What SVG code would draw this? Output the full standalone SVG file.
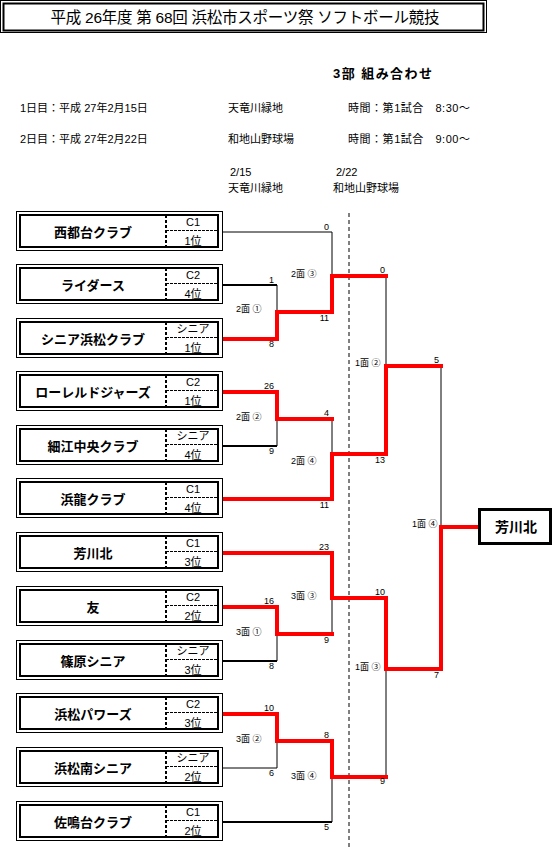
<svg xmlns="http://www.w3.org/2000/svg" width="553" height="866" viewBox="0 0 553 866">
<style>
text{font-family:"Liberation Sans","Noto Sans CJK JP",sans-serif;fill:#000}
.title{font-size:15.5px}
.hd{font-size:11px}
.sub{font-size:13px;font-weight:bold}
.name{font-size:13px;font-weight:bold;text-anchor:middle}
.cat{font-size:11px;text-anchor:middle}
.sc{font-size:9px;text-anchor:end}
.ml{font-size:9px}
.ob{fill:#fff;stroke:#000;stroke-width:1}
.ib{fill:none;stroke:#000;stroke-width:2}
.dv{stroke:#000;stroke-width:2;stroke-dasharray:3 2}
.dh{stroke:#000;stroke-width:1;stroke-dasharray:3 1}
.k1{fill:none;stroke:#000;stroke-width:1}
.k2{fill:none;stroke:#000;stroke-width:2}
.r{fill:none;stroke:#ff0000;stroke-width:4;stroke-linejoin:miter;stroke-linecap:square}
</style>
<rect width="553" height="866" fill="#fff"/>
<g id="header">
<rect x="0.5" y="0.5" width="486" height="32" fill="none" stroke="#000" stroke-width="1"/>
<rect x="3.5" y="3.5" width="480" height="27" fill="none" stroke="#000" stroke-width="2"/>
<text class="title" x="245" y="22.5" text-anchor="middle" textLength="389" lengthAdjust="spacing">平成 26年度  第 68回  浜松市スポーツ祭  ソフトボール競技</text>
<text class="sub" x="333" y="78" textLength="99" lengthAdjust="spacing">3部  組み合わせ</text>
<text class="hd" x="20" y="112">1日目：平成 27年2月15日</text>
<text class="hd" x="228" y="112">天竜川緑地</text>
<text class="hd" x="348" y="112" textLength="122" lengthAdjust="spacing">時間：第1試合　8:30～</text>
<text class="hd" x="20" y="143">2日目：平成 27年2月22日</text>
<text class="hd" x="228" y="143">和地山野球場</text>
<text class="hd" x="348" y="143" textLength="122" lengthAdjust="spacing">時間：第1試合　9:00～</text>
<text class="hd" x="230" y="176">2/15</text>
<text class="hd" x="336" y="176">2/22</text>
<text class="hd" x="228" y="192">天竜川緑地</text>
<text class="hd" x="333" y="192">和地山野球場</text>
</g>
<g id="connectors">
<line x1="349" y1="213" x2="349" y2="848" stroke="#000" stroke-width="1" stroke-dasharray="4 3"/>
<path class="k1" d="M223,232 H332 V276"/>
<path class="k2" d="M223,285 H277"/>
<path class="k1" d="M277,285 V312"/>
<path class="k2" d="M223,446 H277"/>
<path class="k1" d="M277,446 V419"/>
<path class="k1" d="M332,419 V454"/>
<path class="k1" d="M386,276 V366"/>
<path class="k2" d="M223,661 H277"/>
<path class="k1" d="M277,661 V634"/>
<path class="k1" d="M332,598 V634"/>
<path class="k1" d="M223,768 H277 V741"/>
<path class="k2" d="M223,822 H332"/>
<path class="k1" d="M332,822 V777"/>
<path class="k1" d="M386,669 V777"/>
<path class="k1" d="M441,366 V527"/>
<path class="r" d="M224,339 H277 V312 H332 V276 H386"/>
<path class="r" d="M224,392 H277 V419 H332"/>
<path class="r" d="M224,499 H332 V454 H386 V366 H441"/>
<path class="r" d="M224,553 H332 V598 H386 V669 H441 V527 H478"/>
<path class="r" d="M224,607 H277 V634 H332"/>
<path class="r" d="M224,714 H277 V741 H332 V777 H386"/>
<text class="sc" x="274" y="283">1</text>
<text class="sc" x="274" y="347">8</text>
<text class="sc" x="274" y="389">26</text>
<text class="sc" x="274" y="454">9</text>
<text class="sc" x="274" y="604">16</text>
<text class="sc" x="274" y="669">8</text>
<text class="sc" x="274" y="711">10</text>
<text class="sc" x="274" y="776">6</text>
<text class="sc" x="329" y="230">0</text>
<text class="sc" x="329" y="321">11</text>
<text class="sc" x="329" y="416">4</text>
<text class="sc" x="329" y="508">11</text>
<text class="sc" x="329" y="550">23</text>
<text class="sc" x="329" y="643">9</text>
<text class="sc" x="329" y="738">8</text>
<text class="sc" x="329" y="830">5</text>
<text class="sc" x="385" y="273">0</text>
<text class="sc" x="385" y="463">13</text>
<text class="sc" x="385" y="595">10</text>
<text class="sc" x="385" y="784">9</text>
<text class="sc" x="439" y="363">5</text>
<text class="sc" x="439" y="678">7</text>
<text class="ml" x="236" y="312">2面 ①</text>
<text class="ml" x="236" y="420">2面 ②</text>
<text class="ml" x="236" y="635">3面 ①</text>
<text class="ml" x="236" y="742">3面 ②</text>
<text class="ml" x="291" y="277">2面 ③</text>
<text class="ml" x="291" y="464">2面 ④</text>
<text class="ml" x="291" y="599">3面 ③</text>
<text class="ml" x="291" y="779">3面 ④</text>
<text class="ml" x="355" y="366">1面 ②</text>
<text class="ml" x="355" y="670">1面 ③</text>
<text class="ml" x="412" y="527">1面 ④</text>
</g>
<g id="team1" transform="translate(0,232)"><rect class="ob" x="16.5" y="-20.5" width="206" height="39"/><rect class="ib" x="20" y="-17" width="198" height="32"/><line class="dv" x1="166" y1="-17" x2="166" y2="15"/><line class="dh" x1="166" y1="-1.5" x2="219" y2="-1.5"/><text class="name" x="93" y="4.5">西都台クラブ</text><text class="cat" x="193" y="-6">C1</text><text class="cat" x="193" y="13">1位</text></g>
<g id="team2" transform="translate(0,285)"><rect class="ob" x="16.5" y="-20.5" width="206" height="39"/><rect class="ib" x="20" y="-17" width="198" height="32"/><line class="dv" x1="166" y1="-17" x2="166" y2="15"/><line class="dh" x1="166" y1="-1.5" x2="219" y2="-1.5"/><text class="name" x="93" y="4.5">ライダース</text><text class="cat" x="193" y="-6">C2</text><text class="cat" x="193" y="13">4位</text></g>
<g id="team3" transform="translate(0,339)"><rect class="ob" x="16.5" y="-20.5" width="206" height="39"/><rect class="ib" x="20" y="-17" width="198" height="32"/><line class="dv" x1="166" y1="-17" x2="166" y2="15"/><line class="dh" x1="166" y1="-1.5" x2="219" y2="-1.5"/><text class="name" x="93" y="4.5">シニア浜松クラブ</text><text class="cat" x="193" y="-6">シニア</text><text class="cat" x="193" y="13">1位</text></g>
<g id="team4" transform="translate(0,392)"><rect class="ob" x="16.5" y="-20.5" width="206" height="39"/><rect class="ib" x="20" y="-17" width="198" height="32"/><line class="dv" x1="166" y1="-17" x2="166" y2="15"/><line class="dh" x1="166" y1="-1.5" x2="219" y2="-1.5"/><text class="name" x="93" y="4.5">ローレルドジャーズ</text><text class="cat" x="193" y="-6">C2</text><text class="cat" x="193" y="13">1位</text></g>
<g id="team5" transform="translate(0,446)"><rect class="ob" x="16.5" y="-20.5" width="206" height="39"/><rect class="ib" x="20" y="-17" width="198" height="32"/><line class="dv" x1="166" y1="-17" x2="166" y2="15"/><line class="dh" x1="166" y1="-1.5" x2="219" y2="-1.5"/><text class="name" x="93" y="4.5">細江中央クラブ</text><text class="cat" x="193" y="-6">シニア</text><text class="cat" x="193" y="13">4位</text></g>
<g id="team6" transform="translate(0,499)"><rect class="ob" x="16.5" y="-20.5" width="206" height="39"/><rect class="ib" x="20" y="-17" width="198" height="32"/><line class="dv" x1="166" y1="-17" x2="166" y2="15"/><line class="dh" x1="166" y1="-1.5" x2="219" y2="-1.5"/><text class="name" x="93" y="4.5">浜龍クラブ</text><text class="cat" x="193" y="-6">C1</text><text class="cat" x="193" y="13">4位</text></g>
<g id="team7" transform="translate(0,553)"><rect class="ob" x="16.5" y="-20.5" width="206" height="39"/><rect class="ib" x="20" y="-17" width="198" height="32"/><line class="dv" x1="166" y1="-17" x2="166" y2="15"/><line class="dh" x1="166" y1="-1.5" x2="219" y2="-1.5"/><text class="name" x="93" y="4.5">芳川北</text><text class="cat" x="193" y="-6">C1</text><text class="cat" x="193" y="13">3位</text></g>
<g id="team8" transform="translate(0,607)"><rect class="ob" x="16.5" y="-20.5" width="206" height="39"/><rect class="ib" x="20" y="-17" width="198" height="32"/><line class="dv" x1="166" y1="-17" x2="166" y2="15"/><line class="dh" x1="166" y1="-1.5" x2="219" y2="-1.5"/><text class="name" x="93" y="4.5">友</text><text class="cat" x="193" y="-6">C2</text><text class="cat" x="193" y="13">2位</text></g>
<g id="team9" transform="translate(0,661)"><rect class="ob" x="16.5" y="-20.5" width="206" height="39"/><rect class="ib" x="20" y="-17" width="198" height="32"/><line class="dv" x1="166" y1="-17" x2="166" y2="15"/><line class="dh" x1="166" y1="-1.5" x2="219" y2="-1.5"/><text class="name" x="93" y="4.5">篠原シニア</text><text class="cat" x="193" y="-6">シニア</text><text class="cat" x="193" y="13">3位</text></g>
<g id="team10" transform="translate(0,714)"><rect class="ob" x="16.5" y="-20.5" width="206" height="39"/><rect class="ib" x="20" y="-17" width="198" height="32"/><line class="dv" x1="166" y1="-17" x2="166" y2="15"/><line class="dh" x1="166" y1="-1.5" x2="219" y2="-1.5"/><text class="name" x="93" y="4.5">浜松パワーズ</text><text class="cat" x="193" y="-6">C2</text><text class="cat" x="193" y="13">3位</text></g>
<g id="team11" transform="translate(0,768)"><rect class="ob" x="16.5" y="-20.5" width="206" height="39"/><rect class="ib" x="20" y="-17" width="198" height="32"/><line class="dv" x1="166" y1="-17" x2="166" y2="15"/><line class="dh" x1="166" y1="-1.5" x2="219" y2="-1.5"/><text class="name" x="93" y="4.5">浜松南シニア</text><text class="cat" x="193" y="-6">シニア</text><text class="cat" x="193" y="13">2位</text></g>
<g id="team12" transform="translate(0,822)"><rect class="ob" x="16.5" y="-20.5" width="206" height="39"/><rect class="ib" x="20" y="-17" width="198" height="32"/><line class="dv" x1="166" y1="-17" x2="166" y2="15"/><line class="dh" x1="166" y1="-1.5" x2="219" y2="-1.5"/><text class="name" x="93" y="4.5">佐鳴台クラブ</text><text class="cat" x="193" y="-6">C1</text><text class="cat" x="193" y="13">2位</text></g>
<g id="champion"><rect x="479.5" y="509.5" width="71" height="34" fill="#fff" stroke="#000" stroke-width="3"/><text x="516" y="532" text-anchor="middle" font-size="14" font-weight="bold">芳川北</text></g>
</svg>
